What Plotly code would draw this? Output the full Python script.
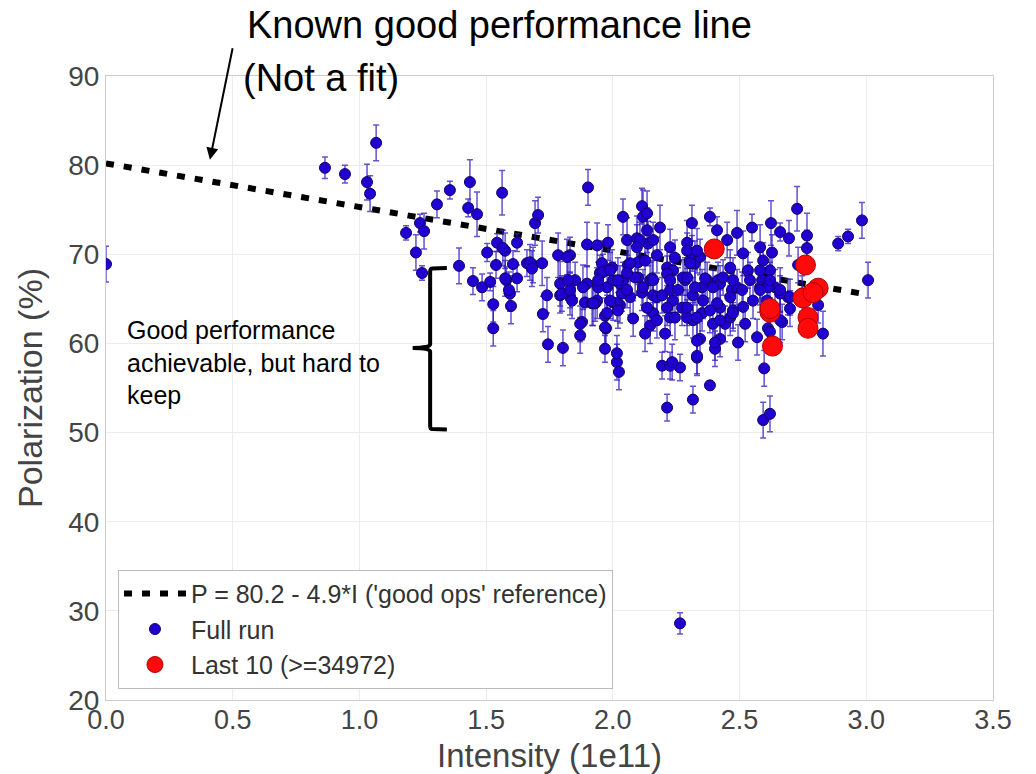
import plotly.graph_objects as go

# Full run: intensity (1e11), polarization (%), and polarization uncertainty
intensity = [
    0.000, 0.864, 0.943, 1.030, 1.042, 1.066, 1.184, 1.223, 1.239, 1.255,
    1.247, 1.306, 1.357, 1.436, 1.429, 1.464, 1.393, 1.448, 1.484, 1.516,
    1.528, 1.528, 1.504, 1.543, 1.539, 1.563, 1.575, 1.579, 1.594, 1.598,
    1.606, 1.622, 1.622, 1.661, 1.685, 1.693, 1.705, 1.721, 1.740, 1.724,
    1.744, 1.784, 1.792, 1.792, 1.803, 1.831, 1.831, 1.851, 1.871, 1.878,
    1.890, 1.902, 1.898, 1.918, 1.938, 1.938, 1.949, 1.957, 1.969, 1.973,
    1.969, 1.977, 1.981, 1.997, 2.001, 2.016, 2.024, 2.028, 2.028, 2.040,
    2.056, 2.060, 2.068, 2.080, 2.095, 2.099, 2.099, 2.115, 2.119, 2.135,
    2.139, 2.147, 2.147, 2.159, 2.159, 2.186, 2.194, 2.206, 2.214, 2.226,
    2.214, 2.226, 2.237, 2.265, 2.273, 2.285, 2.293, 2.304, 2.312, 2.316,
    2.316, 2.324, 2.316, 2.332, 2.344, 2.352, 2.383, 2.383, 2.403, 2.411,
    2.415, 2.423, 2.423, 2.443, 2.451, 2.463, 2.470, 2.474, 2.490, 2.494,
    2.514, 2.522, 2.533, 2.549, 2.553, 2.569, 2.581, 2.593, 2.589, 2.597,
    2.593, 2.620, 2.612, 2.624, 2.640, 2.660, 2.668, 2.691, 2.695, 2.727,
    2.747, 2.766, 2.766, 2.810, 2.829, 2.889, 2.928, 2.983, 3.007, 2.265,
    2.107, 2.159, 2.312, 2.628, 2.068, 2.127, 2.174, 2.245, 2.293, 2.344,
    2.620, 2.040, 2.088, 2.155, 2.214, 2.277, 2.372, 2.423, 2.490, 2.581,
    2.115, 2.174, 2.237, 2.356, 2.411, 2.463, 2.514, 2.608, 2.226, 2.293,
    2.352, 2.395, 2.463, 2.403, 2.620, 2.660, 2.699, 2.612, 2.731, 1.566,
    1.673, 1.575, 1.590, 1.681, 1.799, 1.831, 1.898, 1.871, 1.942, 1.961,
    2.001, 2.016, 1.977, 2.016, 2.036, 2.056, 1.930, 2.135, 1.819, 2.095,
    2.226, 2.332, 2.305, 1.823, 1.882, 1.942, 1.989, 2.020, 2.056, 2.119,
    2.159, 2.194, 2.226, 2.257, 2.293, 2.324, 2.364, 2.395, 2.435, 2.474,
    2.510, 2.541, 2.581, 2.581, 2.620, 2.660, 2.699, 1.839, 1.922, 1.989,
    2.020, 2.135, 2.174, 2.214, 2.245, 2.293, 2.332, 2.383, 2.423, 2.474,
    2.660, 1.969, 2.127, 2.332, 2.234, 2.332,
]
polarization = [
    68.9, 79.7, 79.0, 78.1, 76.8, 82.5, 72.4, 70.2, 73.5, 72.6,
    67.9, 75.6, 77.2, 78.1, 75.2, 74.5, 68.7, 67.0, 66.3, 66.9,
    64.4, 61.7, 70.2, 71.3, 68.8, 76.9, 70.4, 67.1, 65.6, 64.2,
    68.9, 67.3, 71.3, 69.0, 68.8, 73.5, 74.4, 69.0, 65.4, 63.3,
    59.9, 69.9, 66.7, 65.4, 59.5, 69.9, 65.2, 67.1, 60.9, 62.4,
    64.6, 77.5, 71.1, 64.5, 71.0, 64.8, 67.9, 69.0, 63.1, 61.7,
    59.4, 66.3, 71.3, 68.5, 64.6, 57.9, 56.8, 66.7, 64.3, 74.2,
    71.6, 68.8, 65.2, 62.8, 71.8, 69.1, 67.4, 75.4, 74.2, 72.7,
    71.2, 67.1, 62.0, 63.4, 65.4, 73.0, 57.5, 61.1, 52.8, 57.5,
    68.5, 66.0, 68.2, 57.3, 64.0, 67.1, 71.3, 69.3, 73.5, 62.6,
    65.4, 69.0, 53.7, 58.4, 60.5, 66.3, 74.2, 55.3, 59.4, 72.7,
    67.1, 64.0, 60.5, 62.2, 71.6, 68.5, 66.0, 63.7, 72.4, 60.1,
    70.1, 62.2, 68.2, 73.0, 64.8, 60.7, 70.8, 69.3, 67.1, 57.2,
    51.4, 52.1, 61.7, 73.5, 66.3, 72.5, 62.4, 65.2, 71.8, 75.1,
    65.6, 72.1, 70.7, 64.3, 61.1, 71.2, 72.0, 73.8, 67.1, 28.6,
    71.6, 71.6, 70.1, 70.2, 69.0, 69.3, 69.9, 69.6, 70.4, 69.7,
    68.2, 67.1, 67.4, 67.3, 67.8, 67.4, 67.1, 66.7, 66.3, 66.3,
    65.7, 65.2, 64.8, 64.8, 64.5, 65.2, 64.1, 64.8, 62.9, 62.9,
    63.4, 62.2, 62.9, 60.1, 61.3, 65.6, 63.9, 66.3, 68.8, 70.7,
    69.1, 67.3, 66.0, 68.4, 65.6, 66.0, 66.7, 62.2, 66.3, 68.0,
    67.1, 64.5, 63.4, 58.9, 65.6, 67.9, 64.5, 74.6, 69.7, 70.8,
    70.8, 70.4, 69.0, 67.1, 66.3, 67.1, 68.2, 67.1, 66.0, 66.3,
    67.1, 65.4, 67.1, 66.0, 67.4, 66.3, 67.3, 66.3, 67.4, 67.1,
    66.0, 67.1, 66.0, 68.2, 67.1, 66.0, 65.2, 64.8, 64.5, 64.8,
    63.7, 64.0, 62.6, 64.0, 62.9, 64.0, 62.9, 63.7, 62.6, 63.4,
    62.6, 61.8, 61.1, 60.3, 57.9, 58.6,
]
pol_err = [
    2.0, 1.2, 1.0, 2.0, 2.0, 2.0, 0.8, 2.0, 1.0, 2.0,
    0.8, 1.5, 1.0, 2.5, 1.0, 2.5, 2.0, 1.5, 1.5, 1.0,
    2.0, 2.0, 1.0, 1.0, 1.5, 2.5, 2.0, 1.5, 2.0, 2.0,
    1.5, 1.5, 1.0, 1.5, 2.0, 2.5, 2.0, 2.5, 2.0, 2.0,
    2.0, 2.5, 2.5, 2.0, 2.0, 2.0, 2.0, 2.0, 2.0, 2.0,
    2.0, 2.0, 2.5, 2.5, 2.5, 2.0, 2.0, 2.5, 2.0, 2.0,
    1.5, 2.5, 2.0, 2.0, 2.0, 2.0, 2.0, 2.0, 2.0, 2.0,
    2.5, 2.5, 2.0, 2.0, 2.5, 2.5, 2.0, 2.0, 3.0, 2.5,
    2.5, 2.0, 2.0, 2.0, 2.0, 2.5, 1.5, 2.0, 1.5, 1.5,
    2.0, 2.0, 2.0, 1.5, 2.0, 2.5, 2.5, 2.0, 2.0, 2.0,
    2.0, 2.5, 1.5, 2.0, 2.0, 2.0, 1.0, 0.5, 2.0, 1.5,
    2.0, 2.0, 2.0, 2.0, 2.0, 2.0, 2.0, 2.0, 2.5, 2.0,
    2.5, 2.0, 2.0, 1.5, 2.0, 2.0, 2.5, 2.0, 2.0, 2.0,
    2.0, 2.0, 2.0, 2.5, 2.0, 1.0, 2.0, 2.0, 2.0, 2.5,
    2.0, 2.5, 2.0, 2.0, 2.5, 0.8, 0.8, 2.0, 2.0, 1.2,
    2.0, 2.0, 2.0, 2.0, 2.0, 2.0, 2.0, 2.0, 2.0, 2.0,
    2.0, 2.0, 2.0, 2.0, 2.0, 2.0, 2.0, 2.0, 2.0, 2.0,
    2.0, 2.0, 2.0, 2.0, 2.0, 2.0, 2.0, 2.0, 2.0, 2.0,
    2.0, 2.0, 2.0, 2.0, 2.0, 2.0, 2.0, 2.0, 2.0, 2.0,
    2.0, 2.0, 2.0, 2.0, 2.0, 2.0, 2.0, 2.0, 2.0, 2.0,
    2.0, 2.0, 2.0, 2.0, 2.0, 2.0, 2.0, 2.5, 2.0, 2.5,
    2.0, 2.5, 2.0, 2.0, 2.5, 2.0, 2.0, 2.5, 2.0, 2.0,
    2.5, 2.0, 2.0, 2.5, 2.0, 2.0, 2.5, 2.0, 2.0, 2.5,
    2.0, 2.0, 2.5, 2.0, 2.0, 2.5, 2.0, 2.0, 2.5, 2.0,
    2.0, 2.5, 2.0, 2.0, 2.5, 2.0, 2.0, 2.5, 2.0, 2.0,
    2.5, 2.0, 2.0, 2.0, 2.0, 2.0,
]

# Last 10 fills
last10_intensity = [2.40, 2.62, 2.63, 2.76, 2.75, 2.77, 2.77, 2.81, 2.62, 2.79]
last10_polarization = [70.6, 63.5, 59.7, 68.8, 65.1, 62.9, 61.7, 66.2, 63.9, 65.7]
last10_err = [0.8, 0.8, 0.8, 0.8, 0.8, 0.8, 0.8, 0.8, 0.8, 0.8]

# Reference line P = a + b*I
ref_a = 80.2
ref_b = -4.9
ref_intensity = [0.0, 3.0]
ref_polarization = [ref_a + ref_b * i for i in ref_intensity]

x_ticks = [0.0, 0.5, 1.0, 1.5, 2.0, 2.5, 3.0, 3.5]
y_ticks = [20, 30, 40, 50, 60, 70, 80, 90]

FONT = "Liberation Sans, Arial, sans-serif"
W, H = 1036, 774
ML, MR, MT, MB = 106, 43, 76, 74
PW, PH = W - ML - MR, H - MT - MB

fig = go.Figure()

fig.add_trace(go.Scatter(
    x=ref_intensity, y=ref_polarization, mode="lines",
    name="P = 80.2 - 4.9*I ('good ops' reference)",
    line=dict(color="black", width=6, dash="8px,10px"),
))

fig.add_trace(go.Scatter(
    x=intensity, y=polarization, mode="markers", name="Full run",
    marker=dict(size=11, color="#2000d0", line=dict(color="#12006a", width=1)),
    error_y=dict(type="data", array=pol_err, visible=True,
                 color="rgba(45,25,190,0.75)", thickness=1.5, width=3),
))

fig.add_trace(go.Scatter(
    x=last10_intensity, y=last10_polarization, mode="markers",
    name="Last 10 (>=34972)",
    marker=dict(size=20, color="#ff0a0a", line=dict(color="#b00000", width=1)),
    error_y=dict(type="data", array=last10_err, visible=True,
                 color="#ff0a0a", thickness=1.5, width=3),
))

# Curly brace marking the spread below the reference line
brace = ("M 1.345,68.45 L 1.287,68.4 Q 1.279,68.4 1.279,68.0 "
         "L 1.279,59.9 Q 1.279,59.5 1.210,59.5 Q 1.279,59.5 1.279,59.1 "
         "L 1.279,50.8 Q 1.279,50.4 1.287,50.4 L 1.345,50.35")
fig.add_shape(type="path", path=brace, xref="x", yref="y",
              line=dict(color="black", width=4))

# Arrow pointing at the reference line
fig.add_annotation(
    x=0.41, y=80.6, xref="x", yref="y",
    ax=23, ay=-113, axref="pixel", ayref="pixel",
    showarrow=True, arrowhead=2, arrowsize=1.2, arrowwidth=2, arrowcolor="black",
    text="",
)

fig.add_annotation(
    x=(245 - ML) / PW, y=(H - MB - 25) / PH, xref="paper", yref="paper",
    xanchor="left", yanchor="middle",
    text="Known good performance line", showarrow=False,
    font=dict(size=38, color="black", family=FONT),
)
fig.add_annotation(
    x=(241 - ML) / PW, y=(H - MB - 78) / PH, xref="paper", yref="paper",
    xanchor="left", yanchor="middle",
    text="(Not a fit)", showarrow=False,
    font=dict(size=38, color="black", family=FONT),
)
fig.add_annotation(
    x=0.075, y=63.3, xref="x", yref="y",
    xanchor="left", yanchor="top", align="left",
    text="Good performance<br>achievable, but hard to<br>keep", showarrow=False,
    font=dict(size=25, color="black", family=FONT),
)

fig.update_layout(
    width=W, height=H,
    margin=dict(l=ML, r=MR, t=MT, b=MB, autoexpand=False),
    paper_bgcolor="white", plot_bgcolor="white",
    font=dict(family=FONT, color="#444"),
    showlegend=True,
    legend=dict(
        x=0.0135, y=0.018, xanchor="left", yanchor="bottom",
        bgcolor="white", bordercolor="#bbbbbb", borderwidth=1,
        font=dict(size=25, color="#333"), itemwidth=62,
    ),
    xaxis=dict(
        range=[0, 3.5], tickvals=x_ticks, tickformat=".1f",
        showgrid=True, gridcolor="#ececec", gridwidth=1,
        zeroline=False, showline=True, linecolor="#cccccc", mirror=True,
        ticks="", tickfont=dict(size=27, color="#444"), automargin=False,
        ticklabelstandoff=-4,
        title=dict(text="Intensity (1e11)", font=dict(size=33, color="#444")),
    ),
    yaxis=dict(
        range=[20, 90], tickvals=y_ticks,
        showgrid=True, gridcolor="#ececec", gridwidth=1,
        zeroline=False, showline=True, linecolor="#cccccc", mirror=True,
        ticks="", tickfont=dict(size=28, color="#444"), automargin=False,
        title=dict(text="Polarization (%)", font=dict(size=34, color="#444")),
    ),
)

fig.write_html("out.html")
